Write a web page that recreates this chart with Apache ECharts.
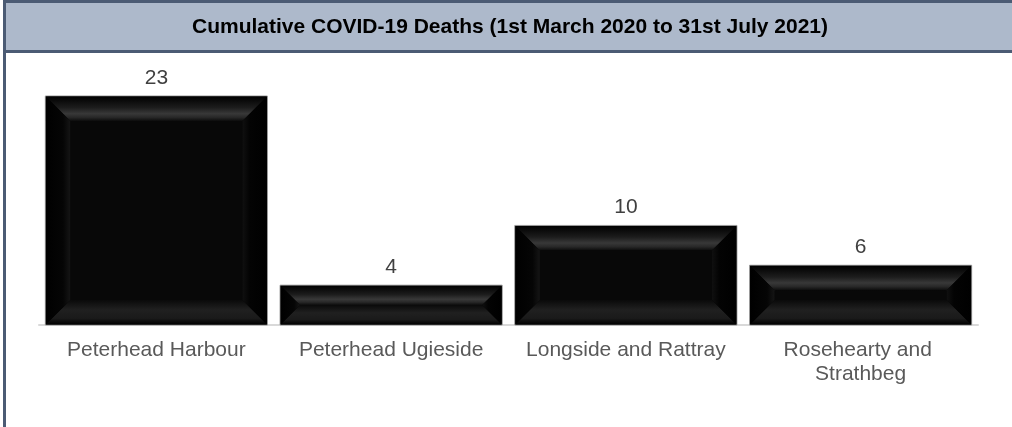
<!DOCTYPE html>
<html>
<head>
<meta charset="utf-8">
<script src="https://cdn.jsdelivr.net/npm/echarts@6/dist/echarts.min.js"></script>
<style>
html,body{margin:0;padding:0;background:#fff;}
#chart{width:1012px;height:427px;}
</style>
</head>
<body>
<div id="chart"></div>
<script>
const categories = ["Peterhead Harbour", "Peterhead Ugieside", "Longside and Rattray", "Rosehearty and Strathbeg"];
const deaths = [23, 4, 10, 6];
const titleText = "Cumulative COVID-19 Deaths (1st March 2020 to 31st July 2021)";

const chart = echarts.init(document.getElementById('chart'));
const FONT = 'Liberation Sans, Arial, sans-serif';

function renderBar(params, api) {
  const xi = api.value(0), v = api.value(1);
  const top = api.coord([xi, v]);
  const base = api.coord([xi, 0]);
  const bw = api.size([1, 0])[0] * 0.946;
  const l = top[0] - bw / 2, r = top[0] + bw / 2, t = top[1], b = base[1];
  const h = b - t, w = r - l;
  const s = Math.min(25, h / 2, w / 2);
  const lin = (x1, y1, x2, y2, stops) => new echarts.graphic.LinearGradient(x1, y1, x2, y2, stops);
  return {
    type: 'group',
    children: [
      { type: 'rect', shape: { x: l, y: t, width: w, height: h }, style: { fill: '#000', stroke: '#9a9a9a', lineWidth: 1 } },
      { type: 'rect', shape: { x: l + s, y: t + s, width: w - 2 * s, height: Math.max(0, h - 2 * s) }, style: { fill: '#080808' } },
      { type: 'polygon', shape: { points: [[l + 0.5, t + 0.5], [r - 0.5, t + 0.5], [r - s, t + s], [l + s, t + s]] },
        style: { fill: lin(0, 0, 0, 1, [{ offset: 0, color: '#000' }, { offset: 0.45, color: '#1c1c1c' }, { offset: 0.7, color: '#383838' }, { offset: 0.85, color: '#282828' }, { offset: 1, color: '#0c0c0c' }]) } },
      { type: 'polygon', shape: { points: [[l + 0.5, b - 0.5], [r - 0.5, b - 0.5], [r - s, b - s], [l + s, b - s]] },
        style: { fill: lin(0, 0, 0, 1, [{ offset: 0, color: '#0a0a0a' }, { offset: 0.4, color: '#202020' }, { offset: 0.75, color: '#1a1a1a' }, { offset: 1, color: '#000' }]) } },
      { type: 'polygon', shape: { points: [[l + 0.5, t + 0.5], [l + s, t + s], [l + s, b - s], [l + 0.5, b - 0.5]] },
        style: { fill: lin(0, 0, 1, 0, [{ offset: 0, color: '#000' }, { offset: 0.7, color: '#050505' }, { offset: 1, color: '#151515' }]) } },
      { type: 'polygon', shape: { points: [[r - 0.5, t + 0.5], [r - s, t + s], [r - s, b - s], [r - 0.5, b - 0.5]] },
        style: { fill: lin(1, 0, 0, 0, [{ offset: 0, color: '#000' }, { offset: 0.7, color: '#030303' }, { offset: 1, color: '#101010' }]) } },
      { type: 'text', style: { text: String(v), x: top[0], y: t - 18, align: 'center', verticalAlign: 'middle', fill: '#404040', font: '21px ' + FONT } }
    ]
  };
}

chart.setOption({
  animation: false,
  backgroundColor: '#fff',
  graphic: [
    { type: 'rect', z: 10, shape: { x: 4.5, y: 1.5, width: 1020, height: 50 }, style: { fill: '#adb9cb', stroke: '#4b5b74', lineWidth: 3 } },
    { type: 'line', z: 11, shape: { x1: 4.5, y1: 0, x2: 4.5, y2: 427 }, style: { stroke: '#4b5b74', lineWidth: 3 } },
    { type: 'text', z: 12, style: { text: titleText, x: 510, y: 27, align: 'center', verticalAlign: 'middle', fill: '#000', font: 'bold 21px ' + FONT } }
  ],
  grid: { left: 39, right: 34, top: 96, bottom: 102 },
  xAxis: {
    type: 'category',
    data: categories,
    axisLine: { lineStyle: { color: '#d9d9d9', width: 2 } },
    axisTick: { show: false },
    axisLabel: { color: '#595959', fontSize: 21, fontFamily: FONT, margin: 13, lineHeight: 24, width: 215, overflow: 'break', interval: 0 }
  },
  yAxis: { type: 'value', min: 0, max: 23, show: false, splitLine: { show: false } },
  series: [{
    type: 'custom',
    renderItem: renderBar,
    data: deaths.map((d, i) => [i, d]),
    encode: { x: 0, y: 1 }
  }]
});
</script>
</body>
</html>
